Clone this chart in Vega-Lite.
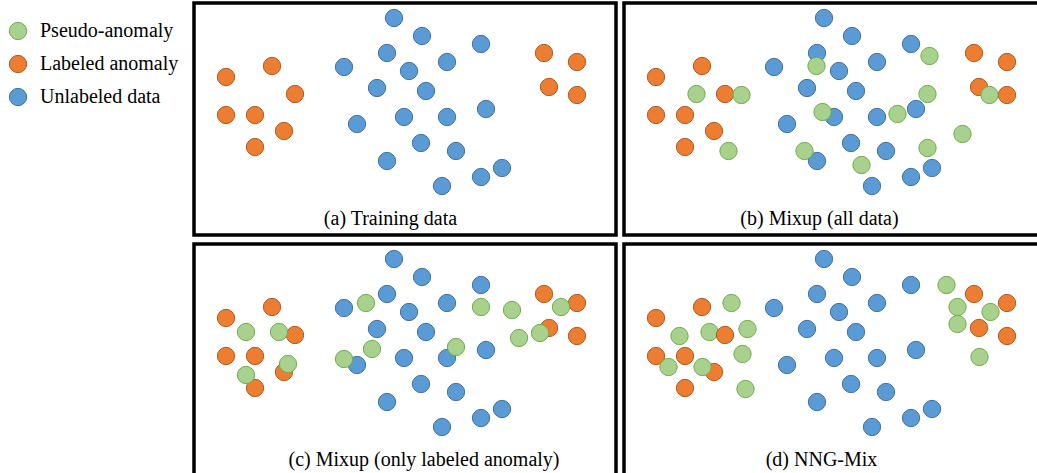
{
  "$schema": "https://vega.github.io/schema/vega-lite/v6.json",
  "padding": {"left": 8, "top": 1, "right": 0, "bottom": 0},
  "autosize": {"type": "pad"},
  "background": "white",
  "bounds": "flush",
  "columns": 2,
  "spacing": {"row": 9, "column": 8},
  "datasets": {
    "a": [
      {"x": 200, "y": 15, "type": "Unlabeled data"}, {"x": 228, "y": 33, "type": "Unlabeled data"}, {"x": 287, "y": 41, "type": "Unlabeled data"}, {"x": 193, "y": 50, "type": "Unlabeled data"}, {"x": 150, "y": 64, "type": "Unlabeled data"}, {"x": 215, "y": 68, "type": "Unlabeled data"}, {"x": 253, "y": 59, "type": "Unlabeled data"}, {"x": 183, "y": 85, "type": "Unlabeled data"}, {"x": 232, "y": 88, "type": "Unlabeled data"}, {"x": 292, "y": 106, "type": "Unlabeled data"}, {"x": 163, "y": 121, "type": "Unlabeled data"}, {"x": 210, "y": 114, "type": "Unlabeled data"}, {"x": 253, "y": 114, "type": "Unlabeled data"}, {"x": 227, "y": 140, "type": "Unlabeled data"}, {"x": 262, "y": 148, "type": "Unlabeled data"}, {"x": 193, "y": 158, "type": "Unlabeled data"}, {"x": 308, "y": 165, "type": "Unlabeled data"}, {"x": 287, "y": 174, "type": "Unlabeled data"}, {"x": 248, "y": 183, "type": "Unlabeled data"},
      {"x": 32, "y": 74, "type": "Labeled anomaly"}, {"x": 78, "y": 63, "type": "Labeled anomaly"}, {"x": 101, "y": 91, "type": "Labeled anomaly"}, {"x": 32, "y": 112, "type": "Labeled anomaly"}, {"x": 61, "y": 112, "type": "Labeled anomaly"}, {"x": 90, "y": 128, "type": "Labeled anomaly"}, {"x": 61, "y": 144, "type": "Labeled anomaly"}, {"x": 350, "y": 50, "type": "Labeled anomaly"}, {"x": 383, "y": 59, "type": "Labeled anomaly"}, {"x": 355, "y": 84, "type": "Labeled anomaly"}, {"x": 383, "y": 92, "type": "Labeled anomaly"}
    ],
    "b": [
      {"x": 200, "y": 15, "type": "Unlabeled data"}, {"x": 228, "y": 33, "type": "Unlabeled data"}, {"x": 287, "y": 41, "type": "Unlabeled data"}, {"x": 193, "y": 50, "type": "Unlabeled data"}, {"x": 150, "y": 64, "type": "Unlabeled data"}, {"x": 215, "y": 68, "type": "Unlabeled data"}, {"x": 253, "y": 59, "type": "Unlabeled data"}, {"x": 183, "y": 85, "type": "Unlabeled data"}, {"x": 232, "y": 88, "type": "Unlabeled data"}, {"x": 292, "y": 106, "type": "Unlabeled data"}, {"x": 163, "y": 121, "type": "Unlabeled data"}, {"x": 210, "y": 114, "type": "Unlabeled data"}, {"x": 253, "y": 114, "type": "Unlabeled data"}, {"x": 227, "y": 140, "type": "Unlabeled data"}, {"x": 262, "y": 148, "type": "Unlabeled data"}, {"x": 193, "y": 158, "type": "Unlabeled data"}, {"x": 308, "y": 165, "type": "Unlabeled data"}, {"x": 287, "y": 174, "type": "Unlabeled data"}, {"x": 248, "y": 183, "type": "Unlabeled data"},
      {"x": 32, "y": 74, "type": "Labeled anomaly"}, {"x": 78, "y": 63, "type": "Labeled anomaly"}, {"x": 101, "y": 91, "type": "Labeled anomaly"}, {"x": 32, "y": 112, "type": "Labeled anomaly"}, {"x": 61, "y": 112, "type": "Labeled anomaly"}, {"x": 90, "y": 128, "type": "Labeled anomaly"}, {"x": 61, "y": 144, "type": "Labeled anomaly"}, {"x": 350, "y": 50, "type": "Labeled anomaly"}, {"x": 383, "y": 59, "type": "Labeled anomaly"}, {"x": 355, "y": 84, "type": "Labeled anomaly"}, {"x": 383, "y": 92, "type": "Labeled anomaly"},
      {"x": 72.5, "y": 91, "type": "Pseudo-anomaly"}, {"x": 117.5, "y": 92, "type": "Pseudo-anomaly"}, {"x": 104.5, "y": 148, "type": "Pseudo-anomaly"}, {"x": 192.5, "y": 63, "type": "Pseudo-anomaly"}, {"x": 198.5, "y": 109, "type": "Pseudo-anomaly"}, {"x": 180.5, "y": 148, "type": "Pseudo-anomaly"}, {"x": 237.5, "y": 162, "type": "Pseudo-anomaly"}, {"x": 305.5, "y": 53, "type": "Pseudo-anomaly"}, {"x": 303.5, "y": 91, "type": "Pseudo-anomaly"}, {"x": 273.5, "y": 111, "type": "Pseudo-anomaly"}, {"x": 303.5, "y": 145, "type": "Pseudo-anomaly"}, {"x": 338.5, "y": 131, "type": "Pseudo-anomaly"}, {"x": 365.5, "y": 92, "type": "Pseudo-anomaly"}
    ],
    "c": [
      {"x": 200, "y": 15, "type": "Unlabeled data"}, {"x": 228, "y": 33, "type": "Unlabeled data"}, {"x": 287, "y": 41, "type": "Unlabeled data"}, {"x": 193, "y": 50, "type": "Unlabeled data"}, {"x": 150, "y": 64, "type": "Unlabeled data"}, {"x": 215, "y": 68, "type": "Unlabeled data"}, {"x": 253, "y": 59, "type": "Unlabeled data"}, {"x": 183, "y": 85, "type": "Unlabeled data"}, {"x": 232, "y": 88, "type": "Unlabeled data"}, {"x": 292, "y": 106, "type": "Unlabeled data"}, {"x": 163, "y": 121, "type": "Unlabeled data"}, {"x": 210, "y": 114, "type": "Unlabeled data"}, {"x": 253, "y": 114, "type": "Unlabeled data"}, {"x": 227, "y": 140, "type": "Unlabeled data"}, {"x": 262, "y": 148, "type": "Unlabeled data"}, {"x": 193, "y": 158, "type": "Unlabeled data"}, {"x": 308, "y": 165, "type": "Unlabeled data"}, {"x": 287, "y": 174, "type": "Unlabeled data"}, {"x": 248, "y": 183, "type": "Unlabeled data"},
      {"x": 32, "y": 74, "type": "Labeled anomaly"}, {"x": 78, "y": 63, "type": "Labeled anomaly"}, {"x": 101, "y": 91, "type": "Labeled anomaly"}, {"x": 32, "y": 112, "type": "Labeled anomaly"}, {"x": 61, "y": 112, "type": "Labeled anomaly"}, {"x": 90, "y": 128, "type": "Labeled anomaly"}, {"x": 61, "y": 144, "type": "Labeled anomaly"}, {"x": 350, "y": 50, "type": "Labeled anomaly"}, {"x": 383, "y": 59, "type": "Labeled anomaly"}, {"x": 355, "y": 84, "type": "Labeled anomaly"}, {"x": 383, "y": 92, "type": "Labeled anomaly"},
      {"x": 52, "y": 88, "type": "Pseudo-anomaly"}, {"x": 85, "y": 88, "type": "Pseudo-anomaly"}, {"x": 52, "y": 131, "type": "Pseudo-anomaly"}, {"x": 94, "y": 120, "type": "Pseudo-anomaly"}, {"x": 172, "y": 59, "type": "Pseudo-anomaly"}, {"x": 178, "y": 105, "type": "Pseudo-anomaly"}, {"x": 150, "y": 115, "type": "Pseudo-anomaly"}, {"x": 262, "y": 103, "type": "Pseudo-anomaly"}, {"x": 287, "y": 63, "type": "Pseudo-anomaly"}, {"x": 318, "y": 66, "type": "Pseudo-anomaly"}, {"x": 325, "y": 94, "type": "Pseudo-anomaly"}, {"x": 346, "y": 89, "type": "Pseudo-anomaly"}, {"x": 367, "y": 63, "type": "Pseudo-anomaly"}
    ],
    "d": [
      {"x": 200, "y": 15, "type": "Unlabeled data"}, {"x": 228, "y": 33, "type": "Unlabeled data"}, {"x": 287, "y": 41, "type": "Unlabeled data"}, {"x": 193, "y": 50, "type": "Unlabeled data"}, {"x": 150, "y": 64, "type": "Unlabeled data"}, {"x": 215, "y": 68, "type": "Unlabeled data"}, {"x": 253, "y": 59, "type": "Unlabeled data"}, {"x": 183, "y": 85, "type": "Unlabeled data"}, {"x": 232, "y": 88, "type": "Unlabeled data"}, {"x": 292, "y": 106, "type": "Unlabeled data"}, {"x": 163, "y": 121, "type": "Unlabeled data"}, {"x": 210, "y": 114, "type": "Unlabeled data"}, {"x": 253, "y": 114, "type": "Unlabeled data"}, {"x": 227, "y": 140, "type": "Unlabeled data"}, {"x": 262, "y": 148, "type": "Unlabeled data"}, {"x": 193, "y": 158, "type": "Unlabeled data"}, {"x": 308, "y": 165, "type": "Unlabeled data"}, {"x": 287, "y": 174, "type": "Unlabeled data"}, {"x": 248, "y": 183, "type": "Unlabeled data"},
      {"x": 32, "y": 74, "type": "Labeled anomaly"}, {"x": 78, "y": 63, "type": "Labeled anomaly"}, {"x": 32, "y": 112, "type": "Labeled anomaly"}, {"x": 61, "y": 112, "type": "Labeled anomaly"}, {"x": 90, "y": 128, "type": "Labeled anomaly"}, {"x": 61, "y": 144, "type": "Labeled anomaly"}, {"x": 350, "y": 50, "type": "Labeled anomaly"}, {"x": 383, "y": 59, "type": "Labeled anomaly"}, {"x": 355, "y": 84, "type": "Labeled anomaly"}, {"x": 383, "y": 92, "type": "Labeled anomaly"},
      {"x": 107.5, "y": 59, "type": "Pseudo-anomaly"}, {"x": 55.5, "y": 92, "type": "Pseudo-anomaly"}, {"x": 85.5, "y": 88, "type": "Pseudo-anomaly"}, {"x": 123.5, "y": 85, "type": "Pseudo-anomaly"}, {"x": 118.5, "y": 110, "type": "Pseudo-anomaly"}, {"x": 44.5, "y": 123, "type": "Pseudo-anomaly"}, {"x": 78.5, "y": 123, "type": "Pseudo-anomaly"}, {"x": 121.5, "y": 145, "type": "Pseudo-anomaly"}, {"x": 322.5, "y": 41, "type": "Pseudo-anomaly"}, {"x": 333.5, "y": 63, "type": "Pseudo-anomaly"}, {"x": 366.5, "y": 68, "type": "Pseudo-anomaly"}, {"x": 333.5, "y": 80, "type": "Pseudo-anomaly"}, {"x": 355.5, "y": 113, "type": "Pseudo-anomaly"},
      {"x": 101, "y": 91, "type": "Labeled anomaly"}
    ]
  },
  "concat": [
    {
      "width": 422, "height": 232,
      "title": {"text": "(a) Training data", "dx": -14.5},
      "data": {"name": "a"},
      "mark": {"type": "point", "filled": true, "size": 300, "opacity": 1, "strokeWidth": 1},
      "encoding": {
        "x": {"field": "x", "type": "quantitative", "scale": {"domain": [0, 422], "nice": false, "zero": false}, "axis": null},
        "y": {"field": "y", "type": "quantitative", "scale": {"domain": [0, 232], "nice": false, "zero": false, "reverse": true}, "axis": null},
        "fill": {"field": "type", "type": "nominal", "title": null, "scale": {"domain": ["Pseudo-anomaly", "Labeled anomaly", "Unlabeled data"], "range": ["#a9d18e", "#ed7d31", "#5b9bd5"]}},
        "stroke": {"field": "type", "type": "nominal", "title": null, "scale": {"domain": ["Pseudo-anomaly", "Labeled anomaly", "Unlabeled data"], "range": ["#70ad47", "#ae5a21", "#41719c"]}}
      }
    },
    {
      "width": 422, "height": 232,
      "title": {"text": "(b) Mixup (all data)", "dx": -15.5},
      "data": {"name": "b"},
      "mark": {"type": "point", "filled": true, "size": 300, "opacity": 1, "strokeWidth": 1},
      "encoding": {
        "x": {"field": "x", "type": "quantitative", "scale": {"domain": [0, 422], "nice": false, "zero": false}, "axis": null},
        "y": {"field": "y", "type": "quantitative", "scale": {"domain": [0, 232], "nice": false, "zero": false, "reverse": true}, "axis": null},
        "fill": {"field": "type", "type": "nominal", "title": null, "scale": {"domain": ["Pseudo-anomaly", "Labeled anomaly", "Unlabeled data"], "range": ["#a9d18e", "#ed7d31", "#5b9bd5"]}},
        "stroke": {"field": "type", "type": "nominal", "title": null, "scale": {"domain": ["Pseudo-anomaly", "Labeled anomaly", "Unlabeled data"], "range": ["#70ad47", "#ae5a21", "#41719c"]}}
      }
    },
    {
      "width": 422, "height": 232,
      "title": {"text": "(c) Mixup (only labeled anomaly)", "dx": 19},
      "data": {"name": "c"},
      "mark": {"type": "point", "filled": true, "size": 300, "opacity": 1, "strokeWidth": 1},
      "encoding": {
        "x": {"field": "x", "type": "quantitative", "scale": {"domain": [0, 422], "nice": false, "zero": false}, "axis": null},
        "y": {"field": "y", "type": "quantitative", "scale": {"domain": [0, 232], "nice": false, "zero": false, "reverse": true}, "axis": null},
        "fill": {"field": "type", "type": "nominal", "title": null, "scale": {"domain": ["Pseudo-anomaly", "Labeled anomaly", "Unlabeled data"], "range": ["#a9d18e", "#ed7d31", "#5b9bd5"]}},
        "stroke": {"field": "type", "type": "nominal", "title": null, "scale": {"domain": ["Pseudo-anomaly", "Labeled anomaly", "Unlabeled data"], "range": ["#70ad47", "#ae5a21", "#41719c"]}}
      }
    },
    {
      "width": 422, "height": 232,
      "title": {"text": "(d) NNG-Mix", "dx": -13.5},
      "data": {"name": "d"},
      "mark": {"type": "point", "filled": true, "size": 300, "opacity": 1, "strokeWidth": 1},
      "encoding": {
        "x": {"field": "x", "type": "quantitative", "scale": {"domain": [0, 422], "nice": false, "zero": false}, "axis": null},
        "y": {"field": "y", "type": "quantitative", "scale": {"domain": [0, 232], "nice": false, "zero": false, "reverse": true}, "axis": null},
        "fill": {"field": "type", "type": "nominal", "title": null, "scale": {"domain": ["Pseudo-anomaly", "Labeled anomaly", "Unlabeled data"], "range": ["#a9d18e", "#ed7d31", "#5b9bd5"]}},
        "stroke": {"field": "type", "type": "nominal", "title": null, "scale": {"domain": ["Pseudo-anomaly", "Labeled anomaly", "Unlabeled data"], "range": ["#70ad47", "#ae5a21", "#41719c"]}}
      }
    }
  ],
  "config": {
    "view": {"stroke": "black", "strokeWidth": 3.5},
    "title": {"font": "Liberation Serif", "fontSize": 20, "fontWeight": "normal", "color": "black", "orient": "bottom", "frame": "group", "anchor": "middle", "baseline": "top", "offset": -26.5},
    "legend": {
      "orient": "none", "legendX": -186, "legendY": 18,
      "labelFont": "Liberation Serif", "labelFontSize": 20, "labelColor": "black", "labelLimit": 300,
      "symbolType": "circle", "symbolSize": 300, "symbolStrokeWidth": 1, "symbolOpacity": 1,
      "rowPadding": 11, "labelOffset": 12
    }
  }
}
